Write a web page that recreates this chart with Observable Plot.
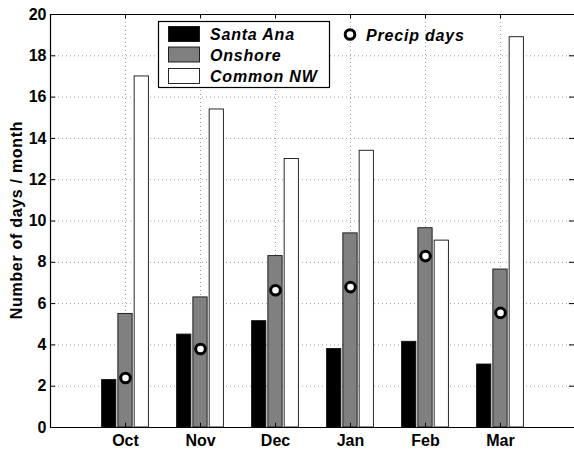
<!DOCTYPE html>
<html>
<head>
<meta charset="utf-8">
<script src="https://cdn.jsdelivr.net/npm/d3@7"></script>
<script src="https://cdn.jsdelivr.net/npm/@observablehq/plot@0.6"></script>
<style>
  html, body { margin: 0; padding: 0; background: #fff; }
  #chart { position: relative; width: 574px; height: 449px; overflow: hidden; }
</style>
</head>
<body>
<div id="chart"></div>
<script>
const months = ["Oct", "Nov", "Dec", "Jan", "Feb", "Mar"];
const santaAna = [2.3, 4.5, 5.15, 3.8, 4.15, 3.05];
const onshore = [5.5, 6.3, 8.3, 9.4, 9.65, 7.65];
const commonNW = [17.0, 15.4, 13.0, 13.4, 9.05, 18.9];
const precipDays = [2.4, 3.8, 6.65, 6.8, 8.3, 5.55];
const seriesNames = ["Santa Ana", "Onshore", "Common NW"];
const seriesColors = ["#000000", "#808080", "#ffffff"];
const yTicks = [0, 2, 4, 6, 8, 10, 12, 14, 16, 18, 20];

const idx = months.map((m, i) => i + 1);
const seriesValues = [santaAna, onshore, commonNW];
const barRows = [];
seriesValues.forEach((vals, s) => {
  vals.forEach((v, i) => barRows.push({pos: i + 1, off: s - 1, series: seriesNames[s], value: v}));
});
const precipRows = precipDays.map((v, i) => ({pos: i + 1, value: v}));

const offStep = 0.217, halfW = 0.095;
const gridStyle = {stroke: "#a0a0a0", strokeWidth: 1, strokeDasharray: "1,3"};
const innerTicks = yTicks.filter(t => t > 0 && t < 20);

const plot = Plot.plot({
  width: 574,
  height: 449,
  marginLeft: 50,
  marginRight: -1,
  marginTop: 14,
  marginBottom: 22,
  style: {fontFamily: "'Liberation Sans', Arial, sans-serif", fontSize: "16px", fontWeight: "bold", background: "#fff", color: "#000"},
  x: {domain: [0, 7]},
  y: {domain: [0, 20]},
  color: {domain: seriesNames, range: seriesColors},
  marks: [
    Plot.ruleY(innerTicks, gridStyle),
    Plot.ruleX(idx, gridStyle),
    Plot.rect(barRows, {
      x1: d => d.pos + d.off * offStep - halfW,
      x2: d => d.pos + d.off * offStep + halfW,
      y1: 0,
      y2: "value",
      fill: "series",
      stroke: "#111",
      strokeWidth: 0.9
    }),
    Plot.dot(precipRows, {x: "pos", y: "value", r: 4.8, fill: "#fff", stroke: "#000", strokeWidth: 3}),
    // inward ticks
    Plot.ruleY(yTicks, {x1: 0, x2: 0.07, stroke: "#000"}),
    Plot.ruleY(yTicks, {x1: 6.92, x2: 7, stroke: "#000"}),
    Plot.ruleX(idx, {y1: 19.8, y2: 20, stroke: "#000"}),
    Plot.ruleX(idx, {y1: 0, y2: 0.2, stroke: "#000"}),
    // frame
    Plot.ruleY([0, 20], {stroke: "#000", strokeWidth: 1.2}),
    Plot.ruleX([0, 7], {stroke: "#000", strokeWidth: 1.2}),
    Plot.axisY({ticks: yTicks, tickSize: 0, tickPadding: 4, label: null, fontSize: 16, fontWeight: "bold"}),
    Plot.axisX({ticks: idx, tickSize: 0, tickPadding: 7, label: null, tickFormat: d => months[d - 1], fontSize: 16, fontWeight: "bold"})
  ]
});

document.getElementById("chart").appendChild(plot);

const svg = d3.select(plot);
const font = "'Liberation Sans', Arial, sans-serif";

// y-axis title
svg.append("text")
  .attr("transform", "translate(16,220) rotate(-90)")
  .attr("text-anchor", "middle")
  .style("text-anchor", "middle")
  .attr("dominant-baseline", "central")
  .style("font-family", font)
  .style("font-size", "16px")
  .style("letter-spacing", "0.7px")
  .style("font-weight", "bold")
  .text("Number of days / month");

// legend box
const lg = svg.append("g").attr("text-anchor", "start");
lg.append("rect").attr("x", 158.5).attr("y", 21.5).attr("width", 171).attr("height", 66)
  .attr("fill", "#fff").attr("stroke", "#000").attr("stroke-width", 1.2);
const rowsY = [26.5, 47, 68.5];
seriesNames.forEach((name, i) => {
  lg.append("rect").attr("x", 168.5).attr("y", rowsY[i]).attr("width", 31).attr("height", 15)
    .attr("fill", seriesColors[i]).attr("stroke", "#111").attr("stroke-width", 0.9);
  lg.append("text").attr("x", 210).attr("y", rowsY[i] + 13.5)
    .attr("text-anchor", "start")
    .style("text-anchor", "start")
    .style("font-family", font).style("font-size", "16px").style("letter-spacing", "0.8px")
    .style("font-weight", "bold").style("font-style", "italic")
    .text(name);
});
lg.append("circle").attr("cx", 350).attr("cy", 34.5).attr("r", 4.8)
  .attr("fill", "#fff").attr("stroke", "#000").attr("stroke-width", 3);
lg.append("text").attr("x", 366).attr("y", 40.5)
  .attr("text-anchor", "start")
  .style("text-anchor", "start")
  .style("font-family", font).style("font-size", "16px").style("letter-spacing", "0.8px")
  .style("font-weight", "bold").style("font-style", "italic")
  .text("Precip days");
</script>
</body>
</html>
